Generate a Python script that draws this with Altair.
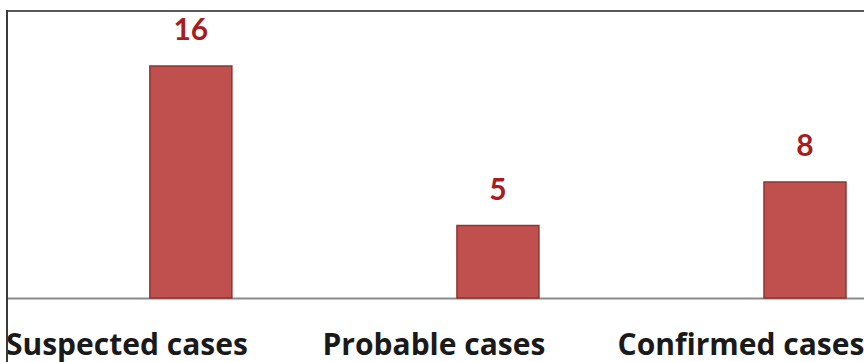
import altair as alt
import pandas as pd

categories = ["Suspected cases", "Probable cases", "Confirmed cases"]
counts = [16, 5, 8]

df = pd.DataFrame({"category": categories, "count": counts})

x = alt.X(
    "category:N",
    sort=categories,
    scale=alt.Scale(paddingInner=0.733, paddingOuter=0.262, align=0.888),
    axis=alt.Axis(
        title=None,
        ticks=False,
        domain=True,
        domainColor="#8a8a8a",
        domainWidth=2,
        labelAngle=0,
        labelFont="Open Sans",
        labelFontWeight="bold",
        labelFontSize=30,
        labelColor="#1a1a1a",
        labelOffset=-64,
        labelPadding=56,
        labelBaseline="alphabetic",
        labelOverlap=False,
        labelLimit=0,
    ),
)
y = alt.Y(
    "count:Q",
    scale=alt.Scale(domain=[0, 19.8], nice=False, zero=True),
    axis=None,
)

bars = alt.Chart(df).mark_bar(
    color="#C0504D", stroke="#8E3432", strokeWidth=1.5
).encode(x=x, y=y)

labels = alt.Chart(df).mark_text(
    font="Lato", fontWeight="bold", fontSize=30, color="#A81C20",
    baseline="alphabetic", dy=-26,
).encode(x=x, y=y, text="count:Q")

# frame lines along the top and left edges
top_edge = alt.Chart(df).mark_rule(color="#5a5a5a", strokeWidth=2).encode(
    y=alt.value(0)
)
left_edge = alt.Chart(df).mark_rule(
    color="#3a3a3a", strokeWidth=2, clip=False
).encode(
    x=alt.value(0), x2=alt.value(0), y=alt.value(-1), y2=alt.value(352)
)

chart = (
    alt.layer(bars, labels, top_edge, left_edge)
    .properties(
        width=857,
        height=287,
        autosize=alt.AutoSizeParams(type="none"),
        padding={"left": 7, "top": 11, "right": 0, "bottom": 64},
        background="white",
    )
    .configure_view(stroke=None)
)

chart.save("out.html", embed_options={"renderer": "svg", "actions": False})
